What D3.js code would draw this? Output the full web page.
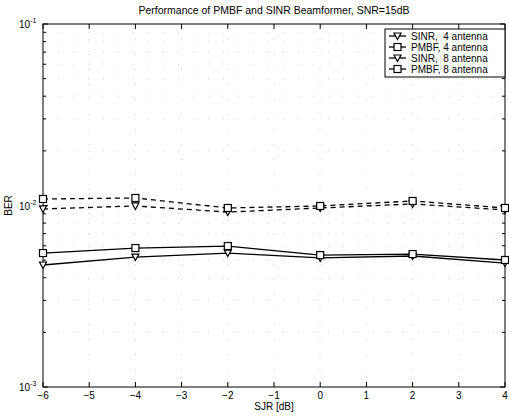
<!DOCTYPE html>
<html>
<head>
<meta charset="utf-8">
<script src="https://cdn.jsdelivr.net/npm/d3@7"></script>
<style>
  body { margin: 0; background: #fff; }
  svg { display: block; font-family: "Liberation Sans", Arial, sans-serif; }
</style>
</head>
<body>
<div id="chart"></div>
<script>
const sjr = [-6, -4, -2, 0, 2, 4];
const sinr4 = [0.0047, 0.0052, 0.00547, 0.00514, 0.00527, 0.00482];
const pmbf4 = [0.00547, 0.00583, 0.00598, 0.00533, 0.0054, 0.00501];
const sinr8 = [0.00957, 0.00994, 0.0092, 0.00969, 0.0102, 0.00945];
const pmbf8 = [0.01086, 0.011, 0.00969, 0.00994, 0.01059, 0.00969];
const xTicks = [-6, -5, -4, -3, -2, -1, 0, 1, 2, 3, 4];
const yTicks = [1e-3, 1e-2, 1e-1];
const yTickExp = ["-3", "-2", "-1"];

const series = [
  { name: "SINR,  4 antenna", values: sinr4, marker: "tri", dash: null },
  { name: "PMBF, 4 antenna", values: pmbf4, marker: "sq", dash: null },
  { name: "SINR,  8 antenna", values: sinr8, marker: "tri", dash: "5,4" },
  { name: "PMBF, 8 antenna", values: pmbf8, marker: "sq", dash: "5,4" }
];

const width = 509, height = 416;
const margin = { top: 24, right: 4, bottom: 29, left: 43 };
const iw = width - margin.left - margin.right;
const ih = height - margin.top - margin.bottom;

const svg = d3.select("#chart").append("svg")
  .attr("width", width)
  .attr("height", height);

const g = svg.append("g").attr("transform", `translate(${margin.left},${margin.top})`);

const x = d3.scaleLinear().domain([-6, 4]).range([0, iw]);
const y = d3.scaleLog().domain([1e-3, 1e-1]).range([ih, 0]);

// minor log values
const minor = [];
[1e-3, 1e-2].forEach(d => { for (let k = 2; k <= 9; k++) minor.push(d * k); });

// faint dotted grid (scanned look)
const grid = g.append("g")
  .attr("stroke", "#aaa")
  .attr("stroke-width", 1)
  .attr("stroke-dasharray", "1,14")
  .attr("opacity", 0.55);
grid.selectAll("line.gx")
  .data(xTicks.slice(1, -1))
  .enter().append("line")
  .attr("x1", d => x(d)).attr("x2", d => x(d))
  .attr("y1", 0).attr("y2", ih);
grid.selectAll("line.gy")
  .data(minor.concat([1e-2]))
  .enter().append("line")
  .attr("x1", 0).attr("x2", iw)
  .attr("y1", d => y(d)).attr("y2", d => y(d));

// frame
g.append("rect")
  .attr("width", iw).attr("height", ih)
  .attr("fill", "none").attr("stroke", "#000").attr("stroke-width", 1);

// ticks, inward
const tk = g.append("g").attr("stroke", "#000").attr("stroke-width", 1);
xTicks.forEach(d => {
  tk.append("line").attr("x1", x(d)).attr("x2", x(d)).attr("y1", ih).attr("y2", ih - 5);
  tk.append("line").attr("x1", x(d)).attr("x2", x(d)).attr("y1", 0).attr("y2", 5);
});
minor.concat(yTicks).forEach(d => {
  const len = yTicks.includes(d) ? 5 : 3;
  tk.append("line").attr("x1", 0).attr("x2", len).attr("y1", y(d)).attr("y2", y(d));
  tk.append("line").attr("x1", iw).attr("x2", iw - len).attr("y1", y(d)).attr("y2", y(d));
});

// x tick labels
g.selectAll("text.xl")
  .data(xTicks)
  .enter().append("text")
  .attr("x", d => x(d))
  .attr("y", ih + 12)
  .attr("text-anchor", "middle")
  .attr("font-size", 10)
  .text(d => d < 0 ? "\u2212" + Math.abs(d) : d);

// y tick labels
yTicks.forEach((d, i) => {
  const t = g.append("text")
    .attr("x", -24)
    .attr("y", y(d) + 4)
    .attr("font-size", 10);
  t.append("tspan").text("10");
  t.append("tspan").attr("dy", -5).attr("font-size", 7).text(yTickExp[i]);
});

// axis labels and title
svg.append("text")
  .attr("x", margin.left + iw / 2)
  .attr("y", height - 6)
  .attr("text-anchor", "middle")
  .attr("font-size", 10)
  .text("SJR [dB]");

svg.append("text")
  .attr("transform", `translate(12,${margin.top + ih / 2}) rotate(-90)`)
  .attr("text-anchor", "middle")
  .attr("font-size", 10)
  .text("BER");

svg.append("text")
  .attr("x", margin.left + iw / 2)
  .attr("y", 14)
  .attr("text-anchor", "middle")
  .attr("font-size", 10.5)
  .text("Performance of PMBF and SINR Beamformer, SNR=15dB");

// markers
function drawMarker(sel, type, cx, cy) {
  if (type === "sq") {
    sel.append("rect")
      .attr("x", cx - 3.5).attr("y", cy - 3.5)
      .attr("width", 7).attr("height", 7)
      .attr("fill", "#fff").attr("stroke", "#000").attr("stroke-width", 1.2);
  } else {
    sel.append("path")
      .attr("d", `M${cx - 3.5},${cy - 3}L${cx + 3.5},${cy - 3}L${cx},${cy + 3.5}Z`)
      .attr("fill", "#fff").attr("stroke", "#000").attr("stroke-width", 1.2);
  }
}

const line = d3.line()
  .x((d, i) => x(sjr[i]))
  .y(d => y(d));

series.forEach(s => {
  const sg = g.append("g");
  sg.append("path")
    .attr("d", line(s.values))
    .attr("fill", "none")
    .attr("stroke", "#000")
    .attr("stroke-width", 1.3)
    .attr("stroke-dasharray", s.dash);
  s.values.forEach((v, i) => drawMarker(sg, s.marker, x(sjr[i]), y(v)));
});

// legend
const lg = svg.append("g").attr("transform", "translate(385,29)");
lg.append("rect")
  .attr("width", 120).attr("height", 48)
  .attr("fill", "#fff").attr("stroke", "#000").attr("stroke-width", 1);
series.forEach((s, i) => {
  const yy = 7 + i * 11;
  lg.append("line")
    .attr("x1", 4).attr("x2", 21).attr("y1", yy).attr("y2", yy)
    .attr("stroke", "#000").attr("stroke-width", 1.3);
  drawMarker(lg, s.marker, 12.5, yy);
  lg.append("text")
    .attr("x", 26).attr("y", yy + 3.5)
    .attr("font-size", 10)
    .attr("xml:space", "preserve")
    .style("white-space", "pre")
    .text(s.name);
});
</script>
</body>
</html>
